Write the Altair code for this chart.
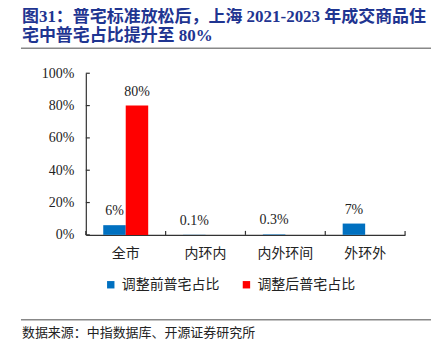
import altair as alt
import pandas as pd

categories = ["全市", "内环内", "内外环间", "外环外"]
before_vals = [6, 0.1, 0.3, 7]
after_vals = [80, None, None, None]
series_names = ["调整前普宅占比", "调整后普宅占比"]
series_colors = ["#0070C0", "#FF0000"]
y_ticks = [0, 20, 40, 60, 80, 100]

title_lines = ["图31：普宅标准放松后，上海 2021-2023 年成交商品住", "宅中普宅占比提升至 80%"]
source_text = "数据来源：中指数据库、开源证券研究所"

rows = []
for c, b, a in zip(categories, before_vals, after_vals):
    rows.append({"cat": c, "series": series_names[0], "val": b})
    if a is not None:
        rows.append({"cat": c, "series": series_names[1], "val": a})
df = pd.DataFrame(rows)
df["label"] = df["val"].map(lambda v: f"{v:g}%")

W, H = 320, 162
SERIF = "Liberation Serif, Noto Sans CJK SC"
CJK = "Noto Sans CJK SC"

x_axis = alt.Axis(title=None, labelAngle=0, ticks=False, labelPadding=12,
                  labelFont=CJK, labelFontSize=14, labelColor="#222",
                  domainColor="#333", domainWidth=1.2)
y_axis = alt.Axis(title=None, values=y_ticks, labelExpr="datum.value + '%'",
                  grid=False, ticks=False, labelPadding=12, labelOverlap=False,
                  labelFont=SERIF, labelFontSize=14, labelColor="#222",
                  domainColor="#333", domainWidth=1.2)
x_scale = alt.Scale(paddingInner=0, paddingOuter=0)
y_scale = alt.Scale(domain=[0, 100], nice=False)

xo_enc = alt.XOffset("series:N", sort=series_names,
                     scale=alt.Scale(domain=series_names, paddingInner=0, paddingOuter=0.775))

base = alt.Chart(df)
bars = base.mark_bar().encode(
    x=alt.X("cat:N", sort=categories, scale=x_scale, axis=x_axis),
    xOffset=xo_enc,
    y=alt.Y("val:Q", scale=y_scale, axis=y_axis),
    color=alt.Color("series:N", sort=series_names,
                    scale=alt.Scale(domain=series_names, range=series_colors),
                    legend=alt.Legend(title=None, orient="none", legendX=18, legendY=205,
                                      direction="horizontal", symbolType="square",
                                      symbolSize=55, symbolStrokeWidth=0,
                                      labelFont=CJK, labelFontSize=14, labelColor="#222",
                                      labelOffset=4, columnPadding=20)),
)
labels = base.mark_text(baseline="bottom", dy=-7, font=SERIF, fontSize=14, color="#222").encode(
    x=alt.X("cat:N", sort=categories, scale=x_scale, axis=x_axis),
    xOffset=xo_enc,
    y=alt.Y("val:Q", scale=y_scale, axis=y_axis), text="label:N")

tick_df = pd.DataFrame({"cat": categories})
xticks = alt.Chart(tick_df).mark_rule(color="#333", strokeWidth=1.2).encode(
    x=alt.X("cat:N", sort=categories, bandPosition=0, scale=x_scale, axis=x_axis),
    y=alt.value(H), y2=alt.value(H - 4))
end_tick = alt.Chart(tick_df.head(1)).mark_rule(color="#333", strokeWidth=1.2).encode(
    x=alt.value(W), y=alt.value(H), y2=alt.value(H - 4))
ytick_df = pd.DataFrame({"val": y_ticks})
yticks = alt.Chart(ytick_df).mark_rule(color="#333", strokeWidth=1.2).encode(
    y=alt.Y("val:Q", scale=y_scale, axis=y_axis), x=alt.value(0), x2=alt.value(4))

title_df = pd.DataFrame({"t": title_lines, "yy": [-56, -37]})
title = alt.Chart(title_df).mark_text(align="left", baseline="middle", font=SERIF,
                                      fontSize=17, fontWeight="bold", color="#1F3591").encode(
    x=alt.value(-64), y=alt.Y("yy:Q", scale=None), text="t:N")
top_line = alt.Chart(tick_df.head(1)).mark_rule(color="#888", strokeWidth=1.5).encode(
    x=alt.value(-65), x2=alt.value(346), y=alt.value(-25))
bottom_line = alt.Chart(tick_df.head(1)).mark_rule(color="#888", strokeWidth=1.5).encode(
    x=alt.value(-65), x2=alt.value(346), y=alt.value(247))
source = alt.Chart(pd.DataFrame({"t": [source_text]})).mark_text(
    align="left", baseline="middle", font=CJK, fontSize=13, color="#222").encode(
    x=alt.value(-64), y=alt.value(260), text="t:N")

chart = alt.layer(bars, labels, xticks, end_tick, yticks, title, top_line, bottom_line, source).properties(
    width=W, height=H,
    autosize=alt.AutoSizeParams(type="none"),
    padding={"left": 78, "top": 65, "right": 30, "bottom": 120},
).configure_view(stroke=None)

chart.save("out.html", embed_options={"renderer": "svg", "actions": False})
